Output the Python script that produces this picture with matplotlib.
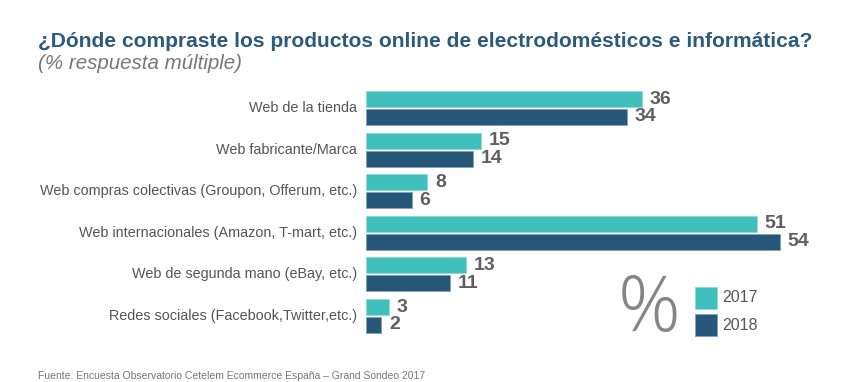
import matplotlib.pyplot as plt
import numpy as np
from matplotlib.patches import Rectangle

categories = ['Web de la tienda', 'Web fabricante/Marca',
              'Web compras colectivas (Groupon, Offerum, etc.)',
              'Web internacionales (Amazon, T-mart, etc.)',
              'Web de segunda mano (eBay, etc.)',
              'Redes sociales (Facebook,Twitter,etc.)']
vals_2017 = [36, 15, 8, 51, 13, 3]
vals_2018 = [34, 14, 6, 54, 11, 2]
years = ['2017', '2018']

c17 = '#41bfbd'
c18 = '#265778'
W, H = 860, 382
sans = ['Liberation Sans', 'DejaVu Sans']

fig = plt.figure(figsize=(W / 100, H / 100), dpi=100)

def fx(px):
    return px / W

def fy(py):
    return 1 - py / H

# axes placed in pixel units of the reference
left, right, top, bottom = 366, 826, 87.2, 336.8
ax = fig.add_axes([fx(left), fy(bottom), fx(right - left), (bottom - top) / H])
ax.set_xlim(0, (right - left) / 7.67)
ax.set_ylim(len(categories) - 0.5, -0.5)
ax.axis('off')

y = np.arange(len(categories))
off, bh = 0.215, 0.385
ax.barh(y - off, vals_2017, height=bh, color=c17, edgecolor='#8fdad8', linewidth=0.6)
ax.barh(y + off, vals_2018, height=bh, color=c18, edgecolor='#7fa3bb', linewidth=0.6)

for i in range(len(categories)):
    ax.text(vals_2017[i] + 1.0, y[i] - off, str(vals_2017[i]), va='center', ha='left',
            fontsize=14, fontweight='bold', color='#5f5f5f', family=sans)
    ax.text(vals_2018[i] + 1.0, y[i] + off, str(vals_2018[i]), va='center', ha='left',
            fontsize=14, fontweight='bold', color='#5f5f5f', family=sans)
    ax.text(-1.2, y[i], categories[i], va='center', ha='right', fontsize=10.4,
            color='#555555', family=sans)

# title block
fig.text(fx(38), fy(47), '¿Dónde compraste los productos online de electrodomésticos e informática?',
         fontsize=15.1, fontweight='bold', color='#2c5a7c', ha='left', va='baseline',
         family=sans)
fig.text(fx(38), fy(69), '(% respuesta múltiple)', fontsize=14.8, style='italic',
         color='#777777', ha='left', va='baseline', family=sans)

# legend
fig.text(fx(649), fy(311), '%', fontsize=56, color='#858585', ha='center', va='center',
         fontweight=300, family=['Open Sans', 'DejaVu Sans'])
for k, (yr, col, ec) in enumerate(zip(years, [c17, c18], ['#8fdad8', '#7fa3bb'])):
    y0 = 287 + k * 27
    fig.patches.append(Rectangle((fx(695), fy(y0 + 22)), fx(22), 22 / H, transform=fig.transFigure,
                                 facecolor=col, edgecolor=ec, linewidth=0.6))
    fig.text(fx(722), fy(y0 + 11), yr, fontsize=11.5, color='#555555', ha='left', va='center',
             family=sans)

# source line at the bottom edge
fig.text(fx(38), fy(381), 'Fuente: Encuesta Observatorio Cetelem Ecommerce España – Grand Sondeo 2017',
         fontsize=7.5, color='#777777', ha='left', va='bottom', family=sans)

fig.savefig('out.png', dpi=100)
